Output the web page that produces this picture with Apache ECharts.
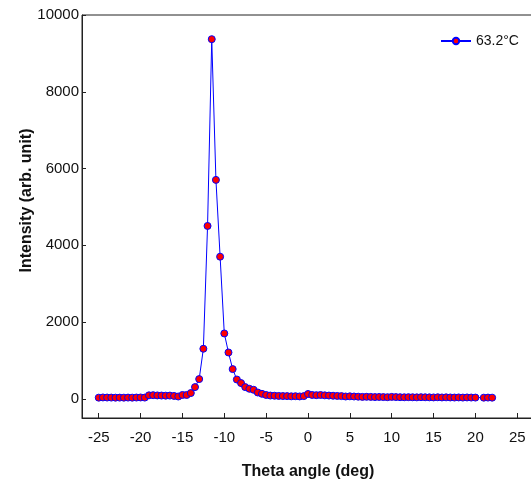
<!DOCTYPE html>
<html lang="en">
<head>
    <meta charset="UTF-8">
    <title>Theta scan</title>
    <script src="https://cdn.jsdelivr.net/npm/echarts@6/dist/echarts.min.js"></script>
</head>
<body style="margin:0">
<div id="main" style="width: 531px;height:482px;"></div>
<script>
    // theta angle (deg), one reading missing at 20.5
    var angles = [
        -25, -24.5, -24, -23.5, -23, -22.5, -22, -21.5, -21, -20.5,
        -20, -19.5, -19, -18.5, -18, -17.5, -17, -16.5, -16, -15.5,
        -15, -14.5, -14, -13.5, -13, -12.5, -12, -11.5, -11, -10.5,
        -10, -9.5, -9, -8.5, -8, -7.5, -7, -6.5, -6, -5.5,
        -5, -4.5, -4, -3.5, -3, -2.5, -2, -1.5, -1, -0.5,
        0, 0.5, 1, 1.5, 2, 2.5, 3, 3.5, 4, 4.5,
        5, 5.5, 6, 6.5, 7, 7.5, 8, 8.5, 9, 9.5,
        10, 10.5, 11, 11.5, 12, 12.5, 13, 13.5, 14, 14.5,
        15, 15.5, 16, 16.5, 17, 17.5, 18, 18.5, 19, 19.5,
        20, 21, 21.5, 22
    ];
    // intensity (arb. unit) at 63.2 C
    var intensity = [
        30, 35, 33, 32, 30, 31, 30, 32, 30, 33,
        35, 32, 90, 95, 88, 85, 82, 84, 75, 60,
        100, 100, 150, 305, 514, 1304, 4504, 9370, 5704, 3703,
        1703, 1207, 774, 503, 410, 305, 261, 235, 164, 130,
        100, 85, 80, 75, 72, 70, 65, 68, 62, 70,
        125, 100, 95, 100, 90, 85, 80, 75, 70, 60,
        65, 60, 55, 50, 52, 50, 45, 48, 45, 42,
        50, 45, 42, 40, 43, 40, 38, 42, 40, 38,
        36, 40, 35, 38, 35, 33, 36, 32, 35, 33,
        32, 30, 32, 30
    ];
    var seriesName = '63.2°C';

    var points = [];
    for (var i = 0; i < angles.length; i++) {
        points.push([angles[i], intensity[i]]);
    }

    var myChart = echarts.init(document.getElementById('main'));
    var option = {
        animation: false,
        textStyle: {fontFamily: 'Liberation Sans, Arial, sans-serif'},
        grid: {
            left: 82, top: 15, width: 452, height: 403,
            outerBoundsMode: 'none',
            show: true, borderColor: '#222', borderWidth: 1
        },
        legend: {
            data: [seriesName],
            left: 440, top: 34, padding: 0,
            itemWidth: 30, itemHeight: 8, itemGap: 5,
            textStyle: {fontSize: 14, color: '#111'}
        },
        xAxis: {
            type: 'value',
            min: -27, max: 27,
            splitNumber: 10,
            name: 'Theta angle (deg)',
            nameLocation: 'middle',
            nameGap: 46,
            nameTextStyle: {fontSize: 16, fontWeight: 'bold', color: '#111'},
            axisLine: {onZero: false, lineStyle: {color: '#222'}},
            axisTick: {inside: true, length: 5, lineStyle: {color: '#222'}},
            axisLabel: {fontSize: 15, color: '#111', margin: 12, showMinLabel: false, showMaxLabel: false},
            splitLine: {show: false}
        },
        yAxis: {
            type: 'value',
            min: -500, max: 10000,
            splitNumber: 5,
            name: 'Intensity (arb. unit)',
            nameLocation: 'middle',
            nameGap: 47,
            nameMoveOverlap: false,
            nameRotate: 90,
            nameTextStyle: {fontSize: 16, fontWeight: 'bold', color: '#111', padding: [0, 0, 0, 32]},
            axisLine: {show: true, onZero: false, lineStyle: {color: '#222'}},
            axisTick: {show: true, inside: true, length: 4, lineStyle: {color: '#222'}},
            axisLabel: {
                fontSize: 15, color: '#111', margin: 3, showMinLabel: false,
                formatter: function (v) { return String(v); }
            },
            splitLine: {show: false}
        },
        series: [
            {
                name: seriesName,
                type: 'line',
                data: points,
                symbol: 'circle',
                symbolSize: 7,
                lineStyle: {color: '#0000ff', width: 1},
                itemStyle: {color: '#ff0000', borderColor: '#0000ff', borderWidth: 1}
            }
        ]
    };
    myChart.setOption(option);
</script>
</body>
</html>
